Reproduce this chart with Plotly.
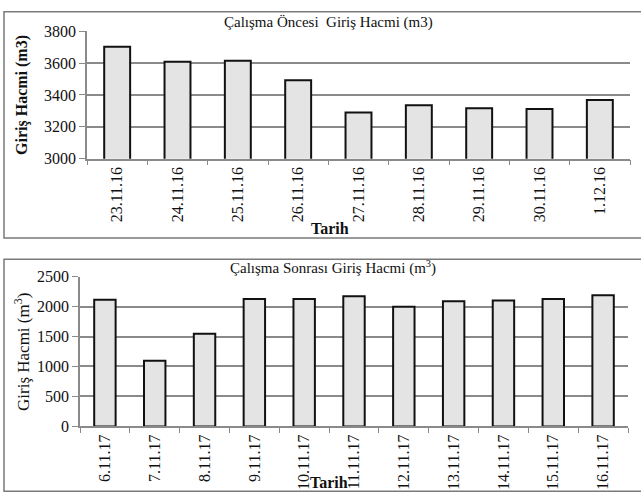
import plotly.graph_objects as go

W, H = 641, 504

dates_before = ["23.11.16", "24.11.16", "25.11.16", "26.11.16", "27.11.16",
                "28.11.16", "29.11.16", "30.11.16", "1.12.16"]
volume_before = [3702, 3608, 3614, 3492, 3290, 3336, 3316, 3312, 3368]

dates_after = ["6.11.17", "7.11.17", "8.11.17", "9.11.17", "10.11.17", "11.11.17",
               "12.11.17", "13.11.17", "14.11.17", "15.11.17", "16.11.17"]
volume_after = [2114, 1095, 1545, 2125, 2125, 2174, 1995, 2087, 2103, 2125, 2190]

yticks_before = [3000, 3200, 3400, 3600, 3800]
yticks_after = [0, 500, 1000, 1500, 2000, 2500]

FONT = "Liberation Serif, Times New Roman, serif"
GRID = "#8a8a8a"
BAR_FILL = "#e4e4e4"


def px(x):
    return x / W


def py(y):
    return 1 - y / H


fig = go.Figure()
fig.add_trace(go.Bar(x=dates_before, y=volume_before, xaxis="x", yaxis="y",
                     marker=dict(color=BAR_FILL, line=dict(color="#111111", width=2)),
                     showlegend=False))
fig.add_trace(go.Bar(x=dates_after, y=volume_after, xaxis="x2", yaxis="y2",
                     marker=dict(color=BAR_FILL, line=dict(color="#111111", width=2)),
                     showlegend=False))

common_x = dict(type="category", showline=True, linecolor=GRID, linewidth=1.5,
                ticks="outside", tickson="boundaries", ticklen=5, tickcolor=GRID,
                tickangle=-90, tickfont=dict(family=FONT, size=16, color="#111"),
                showgrid=False, zeroline=False, fixedrange=True)
common_y = dict(showline=True, linecolor=GRID, linewidth=1.5, ticks="outside",
                ticklen=6, tickcolor=GRID, showgrid=True, gridcolor=GRID, gridwidth=2,
                zeroline=False, tickfont=dict(family=FONT, size=16, color="#111"),
                fixedrange=True)


def ann(text, x, y, size, angle=0):
    return dict(text=text, xref="paper", yref="paper", x=px(x), y=py(y),
                xanchor="center", yanchor="middle", textangle=angle,
                showarrow=False, font=dict(family=FONT, size=size, color="#111"))


fig.update_layout(
    width=W, height=H,
    margin=dict(l=0, r=0, t=0, b=0),
    paper_bgcolor="white", plot_bgcolor="white",
    bargap=0.57,
    xaxis=dict(domain=[px(87), px(630)], anchor="y", **common_x),
    yaxis=dict(domain=[py(156), py(24)], anchor="x", range=[3000, 3800],
               tickvals=yticks_before, **common_y),
    xaxis2=dict(domain=[px(80), px(628)], anchor="y2", **common_x),
    yaxis2=dict(domain=[py(433), py(278)], anchor="x2", range=[0, 2500],
                tickvals=yticks_after, **common_y),
    shapes=[
        dict(type="rect", xref="paper", yref="paper", x0=px(4), x1=px(660),
             y0=py(238), y1=py(4), line=dict(color="#7a7a7a", width=1.5)),
        dict(type="rect", xref="paper", yref="paper", x0=px(4), x1=px(660),
             y0=py(500), y1=py(260), line=dict(color="#7a7a7a", width=1.5)),
    ],
    annotations=[
        ann("Çalışma Öncesi  Giriş Hacmi (m3)", 328, 15, 15),
        ann("<b>Giriş Hacmi (m3)</b>", 22, 90, 16, -90),
        ann("<b>Tarih</b>", 330, 228, 16),
        ann("Çalışma Sonrası Giriş Hacmi (m<sup>3</sup>)", 333, 269, 15),
        ann("Giriş Hacmi (m<sup>3</sup>)", 22, 356, 17, -90),
        ann("<b>Tarih</b>", 329, 491, 16),
    ],
)

fig.write_html(
    "out.html",
    config={"displayModeBar": False},
    post_script="document.body.style.margin='0';document.body.style.overflow='hidden';",
)
